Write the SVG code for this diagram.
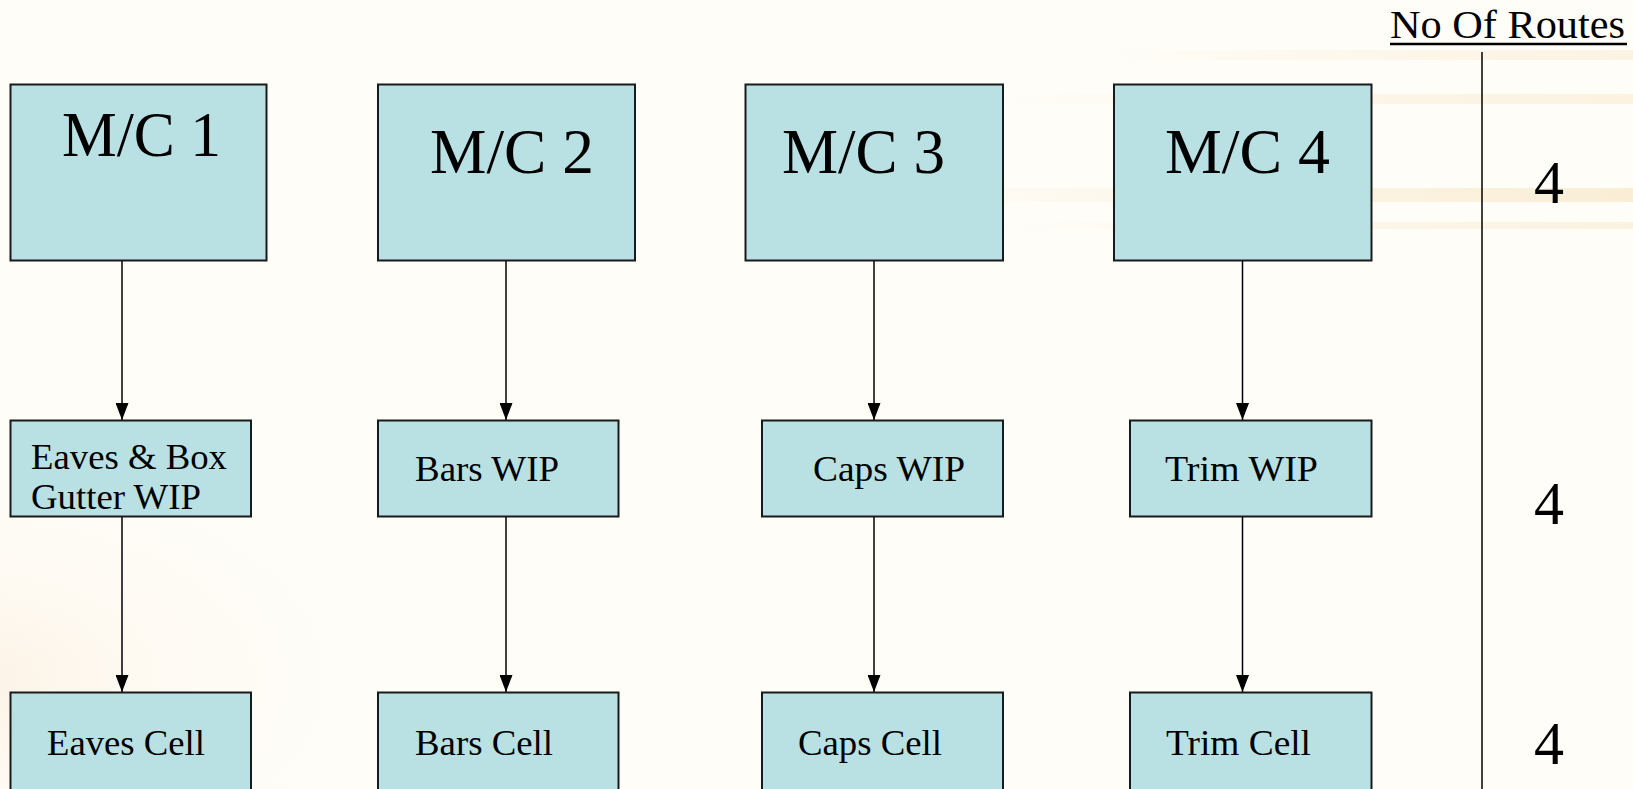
<svg xmlns="http://www.w3.org/2000/svg" width="1633" height="789" viewBox="0 0 1633 789">
<defs>
<style>
.box{fill:#B9E0E3;stroke:#1a1a1a;stroke-width:2}
.t{font-family:"Liberation Serif","Times New Roman",serif;fill:#000}
.mc{font-size:64px}
.lb{font-size:36px}
.num{font-size:62px}
.con{stroke:#000;stroke-width:1.5;fill:none;marker-end:url(#ah)}
</style>
<marker id="ah" markerUnits="userSpaceOnUse" markerWidth="17" markerHeight="13" refX="17" refY="6.5" orient="auto" viewBox="0 0 17 13">
<path d="M0,0 L17,6.5 L0,13 z" fill="#000"/>
</marker>
<linearGradient id="streak" x1="0" y1="0" x2="1" y2="0">
<stop offset="0" stop-color="#F3DDB0" stop-opacity="0"/>
<stop offset="0.5" stop-color="#F3DDB0" stop-opacity="0.5"/>
<stop offset="1" stop-color="#F0D49E" stop-opacity="0.7"/>
</linearGradient>
<radialGradient id="glow" cx="0.2" cy="0.6" r="0.6">
<stop offset="0" stop-color="#FAEBD8" stop-opacity="0.6"/>
<stop offset="1" stop-color="#FFFDF8" stop-opacity="0"/>
</radialGradient>
</defs>
<rect width="1633" height="789" fill="#FFFDF8"/>
<g id="background">
<rect x="1100" y="50" width="533" height="10" fill="url(#streak)" opacity="0.35"/>
<rect x="1000" y="94" width="633" height="10" fill="url(#streak)" opacity="0.4"/>
<rect x="900" y="188" width="733" height="14" fill="url(#streak)" opacity="0.55"/>
<rect x="1000" y="222" width="633" height="7" fill="url(#streak)" opacity="0.4"/>
<ellipse cx="180" cy="640" rx="360" ry="200" fill="url(#glow)"/>
</g>
<g id="connectors">
<line class="con" x1="122" y1="261" x2="122" y2="420"/>
<line class="con" x1="506" y1="261" x2="506" y2="420"/>
<line class="con" x1="874" y1="261" x2="874" y2="420"/>
<line class="con" x1="1242.5" y1="261" x2="1242.5" y2="420"/>
<line class="con" x1="122" y1="517" x2="122" y2="692"/>
<line class="con" x1="506" y1="517" x2="506" y2="692"/>
<line class="con" x1="874" y1="517" x2="874" y2="692"/>
<line class="con" x1="1242.5" y1="517" x2="1242.5" y2="692"/>
</g>
<g id="mc1"><rect class="box" x="10.5" y="84.5" width="256" height="176"/><text class="t mc" x="62" y="156" textLength="159" lengthAdjust="spacingAndGlyphs">M/C 1</text></g>
<g id="mc2"><rect class="box" x="378" y="84.5" width="257" height="176"/><text class="t mc" x="430" y="173" textLength="164" lengthAdjust="spacingAndGlyphs">M/C 2</text></g>
<g id="mc3"><rect class="box" x="745.5" y="84.5" width="257.5" height="176"/><text class="t mc" x="782" y="173" textLength="163" lengthAdjust="spacingAndGlyphs">M/C 3</text></g>
<g id="mc4"><rect class="box" x="1114" y="84.5" width="257.5" height="176"/><text class="t mc" x="1165" y="173" textLength="165" lengthAdjust="spacingAndGlyphs">M/C 4</text></g>
<g id="wip1"><rect class="box" x="10.5" y="420.5" width="240.5" height="96"/><text class="t lb" x="31" y="469" textLength="196" lengthAdjust="spacingAndGlyphs">Eaves &amp; Box</text><text class="t lb" x="31" y="509" textLength="170" lengthAdjust="spacingAndGlyphs">Gutter WIP</text></g>
<g id="wip2"><rect class="box" x="378" y="420.5" width="240.5" height="96"/><text class="t lb" x="415" y="481" textLength="144" lengthAdjust="spacingAndGlyphs">Bars WIP</text></g>
<g id="wip3"><rect class="box" x="762" y="420.5" width="241" height="96"/><text class="t lb" x="813" y="481" textLength="152" lengthAdjust="spacingAndGlyphs">Caps WIP</text></g>
<g id="wip4"><rect class="box" x="1130" y="420.5" width="241.5" height="96"/><text class="t lb" x="1165" y="481" textLength="153" lengthAdjust="spacingAndGlyphs">Trim WIP</text></g>
<g id="cell1"><rect class="box" x="10.5" y="692.5" width="240.5" height="110"/><text class="t lb" x="47" y="755" textLength="158" lengthAdjust="spacingAndGlyphs">Eaves Cell</text></g>
<g id="cell2"><rect class="box" x="378" y="692.5" width="240.5" height="110"/><text class="t lb" x="415" y="755" textLength="138" lengthAdjust="spacingAndGlyphs">Bars Cell</text></g>
<g id="cell3"><rect class="box" x="762" y="692.5" width="241" height="110"/><text class="t lb" x="798" y="755" textLength="144" lengthAdjust="spacingAndGlyphs">Caps Cell</text></g>
<g id="cell4"><rect class="box" x="1130" y="692.5" width="241.5" height="110"/><text class="t lb" x="1166" y="755" textLength="145" lengthAdjust="spacingAndGlyphs">Trim Cell</text></g>
<g id="routes">
<text class="t" x="1390" y="38" font-size="40" textLength="235" lengthAdjust="spacingAndGlyphs">No Of Routes</text>
<line x1="1390" y1="44" x2="1627" y2="44" stroke="#000" stroke-width="2.5"/>
<line x1="1482" y1="52" x2="1482" y2="789" stroke="#000" stroke-width="1.5"/>
<text class="t num" x="1549" y="203" text-anchor="middle" textLength="30" lengthAdjust="spacingAndGlyphs">4</text>
<text class="t num" x="1549" y="524" text-anchor="middle" textLength="30" lengthAdjust="spacingAndGlyphs">4</text>
<text class="t num" x="1549" y="764" text-anchor="middle" textLength="30" lengthAdjust="spacingAndGlyphs">4</text>
</g>
</svg>
